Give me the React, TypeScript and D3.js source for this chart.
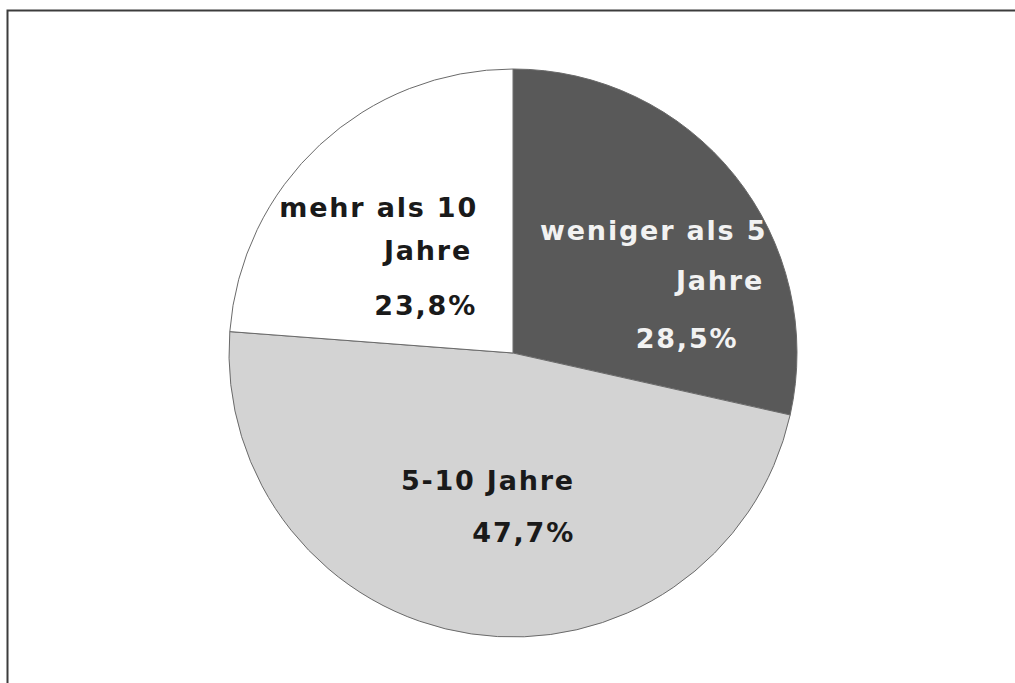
import React, { useEffect, useRef } from 'react';
import * as d3 from 'd3';

// Anteile nach Dauer (im Uhrzeigersinn ab 12 Uhr)
const categories = ['weniger als 5 Jahre', '5-10 Jahre', 'mehr als 10 Jahre'];
const shares = [28.5, 47.7, 23.8];
const shareLabels = ['28,5%', '47,7%', '23,8%'];
const labelLines = [['weniger als 5', 'Jahre'], ['5-10 Jahre'], ['mehr als 10', 'Jahre']];

const fills = ['#595959', '#d3d3d3', '#ffffff'];
const textColors = ['#f2f2f2', '#1a1a1a', '#1a1a1a'];

export default function App() {
  const ref = useRef<SVGSVGElement | null>(null);

  useEffect(() => {
    const width = 1015, height = 683;
    const cx = 513, cy = 353, radius = 284;

    const svg = d3.select(ref.current);
    svg.selectAll('*').remove();
    svg.attr('width', width).attr('height', height);

    // frame (only top/left visible in the crop)
    svg.append('path')
      .attr('d', `M7.5,${height} L7.5,10.5 L${width},10.5`)
      .attr('fill', 'none')
      .attr('stroke', '#3c3c3c')
      .attr('stroke-width', 2);

    const data = categories.map((c, i) => ({ name: c, value: shares[i], i }));

    const pieGen = d3.pie<any>().sort(null).value(d => d.value);
    const arcGen = d3.arc<any>().innerRadius(0).outerRadius(radius);

    const g = svg.append('g').attr('transform', `translate(${cx},${cy})`);

    g.selectAll('path.slice')
      .data(pieGen(data))
      .enter()
      .append('path')
      .attr('class', 'slice')
      .attr('d', arcGen)
      .attr('fill', d => fills[d.data.i])
      .attr('stroke', '#6a6a6a')
      .attr('stroke-width', 1);

    // label layout, relative to pie centre
    const layout = [
      { lines: [{ x: 27, y: -113, a: 'start' }, { x: 251, y: -63, a: 'end' }, { x: 174, y: -5, a: 'middle' }] },
      { lines: [{ x: 62, y: 137, a: 'end' }, { x: 62, y: 189, a: 'end' }] },
      { lines: [{ x: -35, y: -136, a: 'end' }, { x: -41, y: -93, a: 'end' }, { x: -36, y: -38, a: 'end' }] },
    ];

    data.forEach((d, i) => {
      const texts = [...labelLines[i], shareLabels[i]];
      texts.forEach((t, j) => {
        const p = layout[i].lines[j];
        g.append('text')
          .attr('x', p.x)
          .attr('y', p.y)
          .attr('text-anchor', p.a)
          .attr('fill', textColors[i])
          .style('font-family', '"DejaVu Sans", sans-serif')
          .style('font-weight', 'bold')
          .style('font-size', '27px')
          .style('letter-spacing', '1.8px')
          .text(t);
      });
    });
  }, []);

  return (
    <div style={{ position: 'absolute', left: 0, top: 0 }}>
      <svg ref={ref} style={{ display: 'block', background: '#fff' }} />
    </div>
  );
}
